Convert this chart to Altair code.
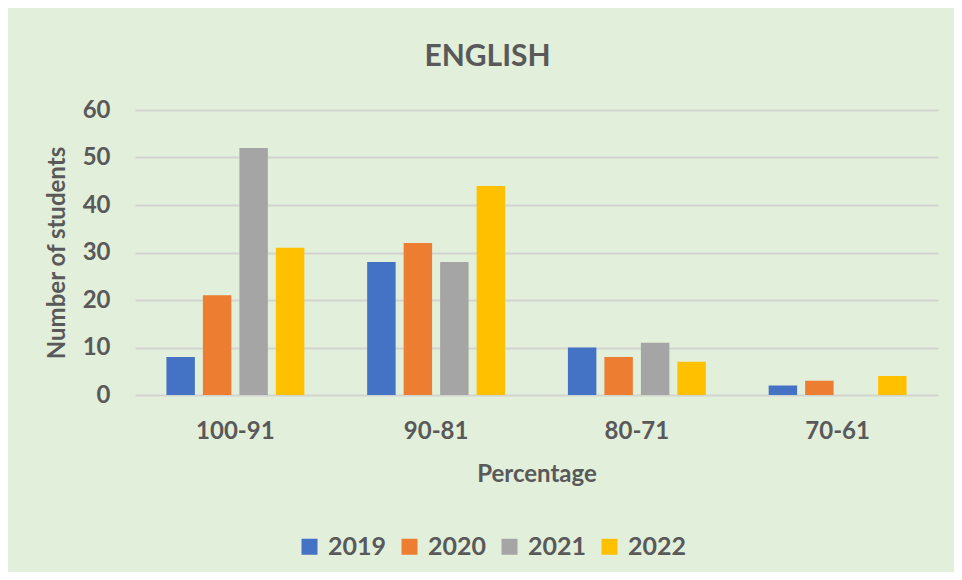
import altair as alt
import pandas as pd

categories = ["100-91", "90-81", "80-71", "70-61"]
years = ["2019", "2020", "2021", "2022"]
values_2019 = [8, 28, 10, 2]
values_2020 = [21, 32, 8, 3]
values_2021 = [52, 28, 11, 0]
values_2022 = [31, 44, 7, 4]
colors = ["#4472C4", "#ED7D31", "#A5A5A5", "#FFC000"]

series = [values_2019, values_2020, values_2021, values_2022]
rows = []
for y, vals in zip(years, series):
    for c, v in zip(categories, vals):
        rows.append({"Percentage": c, "Year": y, "Students": v})
df = pd.DataFrame(rows)

FONT = "Lato"
TEXT = "#595959"

chart = alt.Chart(df).mark_bar().encode(
    x=alt.X("Percentage:N", sort=categories,
            scale=alt.Scale(paddingInner=0.313, paddingOuter=0.1565),
            axis=alt.Axis(title="Percentage", labelAngle=0, ticks=False, tickSize=0,
                          domain=False, labelPadding=24, titlePadding=19,
                          labelFontSize=24, titleFontSize=24)),
    xOffset=alt.XOffset("Year:N", sort=years,
                        scale=alt.Scale(paddingInner=0.22, paddingOuter=0)),
    y=alt.Y("Students:Q", scale=alt.Scale(domain=[0, 60]),
            axis=alt.Axis(title="Number of students", values=[0, 10, 20, 30, 40, 50, 60],
                          ticks=False, tickSize=0, domain=False, labelPadding=25,
                          titlePadding=13, labelFontSize=24, titleFontSize=24,
                          gridColor="#D2D5CF", gridWidth=2)),
    color=alt.Color("Year:N", sort=years,
                    scale=alt.Scale(domain=years, range=colors),
                    legend=alt.Legend(title=None, orient="none", direction="horizontal",
                                      legendX=162, legendY=424, symbolType="square",
                                      symbolSize=256, symbolStrokeWidth=0,
                                      labelFontSize=25, labelOffset=6,
                                      columnPadding=10)),
).properties(
    width=803,
    height=285,
    title=alt.TitleParams("ENGLISH", fontSize=30, font=FONT, fontWeight="bold",
                          color=TEXT, anchor="middle", dx=-49, offset=26),
    background="#E2EFDA",
    padding={"left": 127, "top": 102, "right": 16, "bottom": 177},
    autosize=alt.AutoSizeParams(type="none"),
).configure_view(
    stroke=None
).configure_axis(
    labelFont=FONT, titleFont=FONT, labelFontWeight="bold", titleFontWeight="bold",
    labelColor=TEXT, titleColor=TEXT
).configure_legend(
    labelFont=FONT, labelFontWeight="bold", labelColor=TEXT
)

chart.save("out.html", embed_options={"renderer": "svg", "actions": False})
